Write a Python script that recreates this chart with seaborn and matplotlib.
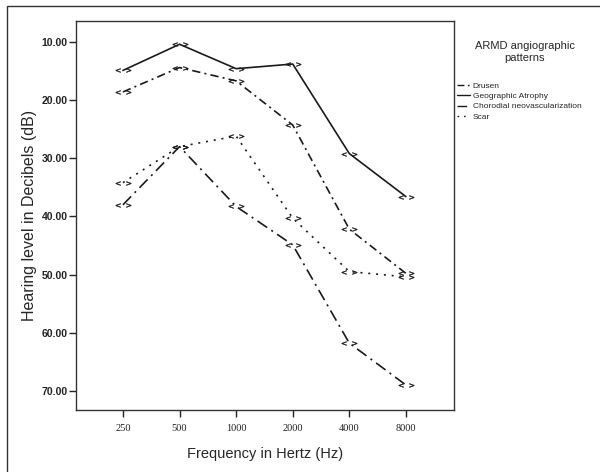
import matplotlib
matplotlib.use("Agg")
import matplotlib.pyplot as plt
from matplotlib.lines import Line2D
from matplotlib.patches import Rectangle
import seaborn as sns
import pandas as pd

frequencies = ["250", "500", "1000", "2000", "4000", "8000"]
groups = ["Drusen", "Geographic Atrophy", "Choroidal neovascularization", "Scar"]
legend_labels = ["Drusen", "Geographic Atrophy", "Chorodial neovascularization", "Scar"]
drusen = [18.6, 14.4, 16.7, 24.3, 42.2, 49.8]
geographic_atrophy = [14.9, 10.4, 14.6, 13.8, 29.2, 36.6]
choroidal_nv = [38.0, 28.0, 38.3, 44.9, 61.8, 69.0]
scar = [34.2, 28.0, 26.2, 40.3, 49.5, 50.4]
y_ticks = [10, 20, 30, 40, 50, 60, 70]
y_labels = ["10.00", "20.00", "30.00", "40.00", "50.00", "60.00", "70.00"]

series = {
    "Drusen": drusen,
    "Geographic Atrophy": geographic_atrophy,
    "Choroidal neovascularization": choroidal_nv,
    "Scar": scar,
}
rows = []
for g in groups:
    for i, (f, v) in enumerate(zip(frequencies, series[g])):
        rows.append({"pos": i, "freq": f, "db": v, "group": g})
df = pd.DataFrame(rows)

sns.set_theme(style="ticks", rc={"xtick.major.size": 5, "ytick.major.size": 5,
                                 "xtick.major.width": 1.0, "ytick.major.width": 1.0,
                                 "xtick.color": "#222222", "ytick.color": "#222222",
                                 "xtick.bottom": True, "ytick.left": True})
plt.rcParams["font.family"] = ["Liberation Sans", "DejaVu Sans"]

fig = plt.figure(figsize=(6.0, 4.72), dpi=100)
ax = fig.add_axes([76 / 600, 1 - 410 / 472, (454 - 76) / 600, (410 - 21) / 472])

dashes = {
    "Drusen": (5, 2.5, 1.2, 2.5),
    "Geographic Atrophy": "",
    "Choroidal neovascularization": (7, 3, 1.2, 3),
    "Scar": (1.2, 3.5),
}
palette = {g: "#1a1a1a" for g in groups}
markers = {g: r"$<\,>$" for g in groups}

sns.lineplot(data=df, x="pos", y="db", hue="group", style="group",
             hue_order=groups, style_order=groups, palette=palette,
             dashes=dashes, markers=markers, markersize=11, linewidth=1.2,
             markeredgewidth=0.3, markeredgecolor="#1a1a1a",
             markerfacecolor="#1a1a1a", legend=False, ax=ax)

ax.set_xlim(-0.83, 5.85)
ax.set_ylim(73.3, 6.4)
ax.set_xticks(range(len(frequencies)))
ax.set_xticklabels(frequencies, fontsize=7.5, family=["Liberation Serif", "DejaVu Serif"])
ax.set_yticks(y_ticks)
ax.set_yticklabels(y_labels, fontsize=7.5, fontweight="bold")
ax.xaxis.set_ticks_position("bottom")
ax.yaxis.set_ticks_position("left")
ax.tick_params(axis="both", which="major", direction="out", length=5, width=1.0,
               colors="#222222")
ax.tick_params(axis="x", pad=5)
ax.tick_params(axis="y", pad=1)
for s in ax.spines.values():
    s.set_visible(True)
    s.set_color("#333333")
    s.set_linewidth(1.0)
ax.set_xlabel("Frequency in Hertz (Hz)", fontsize=10.5, labelpad=10)
ax.set_ylabel("Hearing level in Decibels (dB)", fontsize=11.5, labelpad=3)

handles = []
for g in groups:
    h = Line2D([0], [0], color="#1a1a1a", lw=1.0)
    if dashes[g] != "":
        h.set_dashes(dashes[g])
    handles.append(h)

fig.text(525 / 600, 1 - 52 / 472, "ARMD angiographic\npatterns", ha="center", va="center",
         fontsize=8, multialignment="center", linespacing=1.3)
fig.legend(handles, legend_labels, loc="upper left", bbox_to_anchor=(457 / 600, 1 - 82 / 472),
           frameon=False, fontsize=6, handlelength=1.6, handletextpad=0.3,
           labelspacing=0.3, borderaxespad=0, borderpad=0)

fig.patches.append(Rectangle((7 / 600, -0.1), 1.2, 1 - 6 / 472 + 0.1,
                             transform=fig.transFigure, fill=False,
                             edgecolor="#333333", linewidth=1.0, zorder=0))

fig.savefig("out.png", dpi=100)
